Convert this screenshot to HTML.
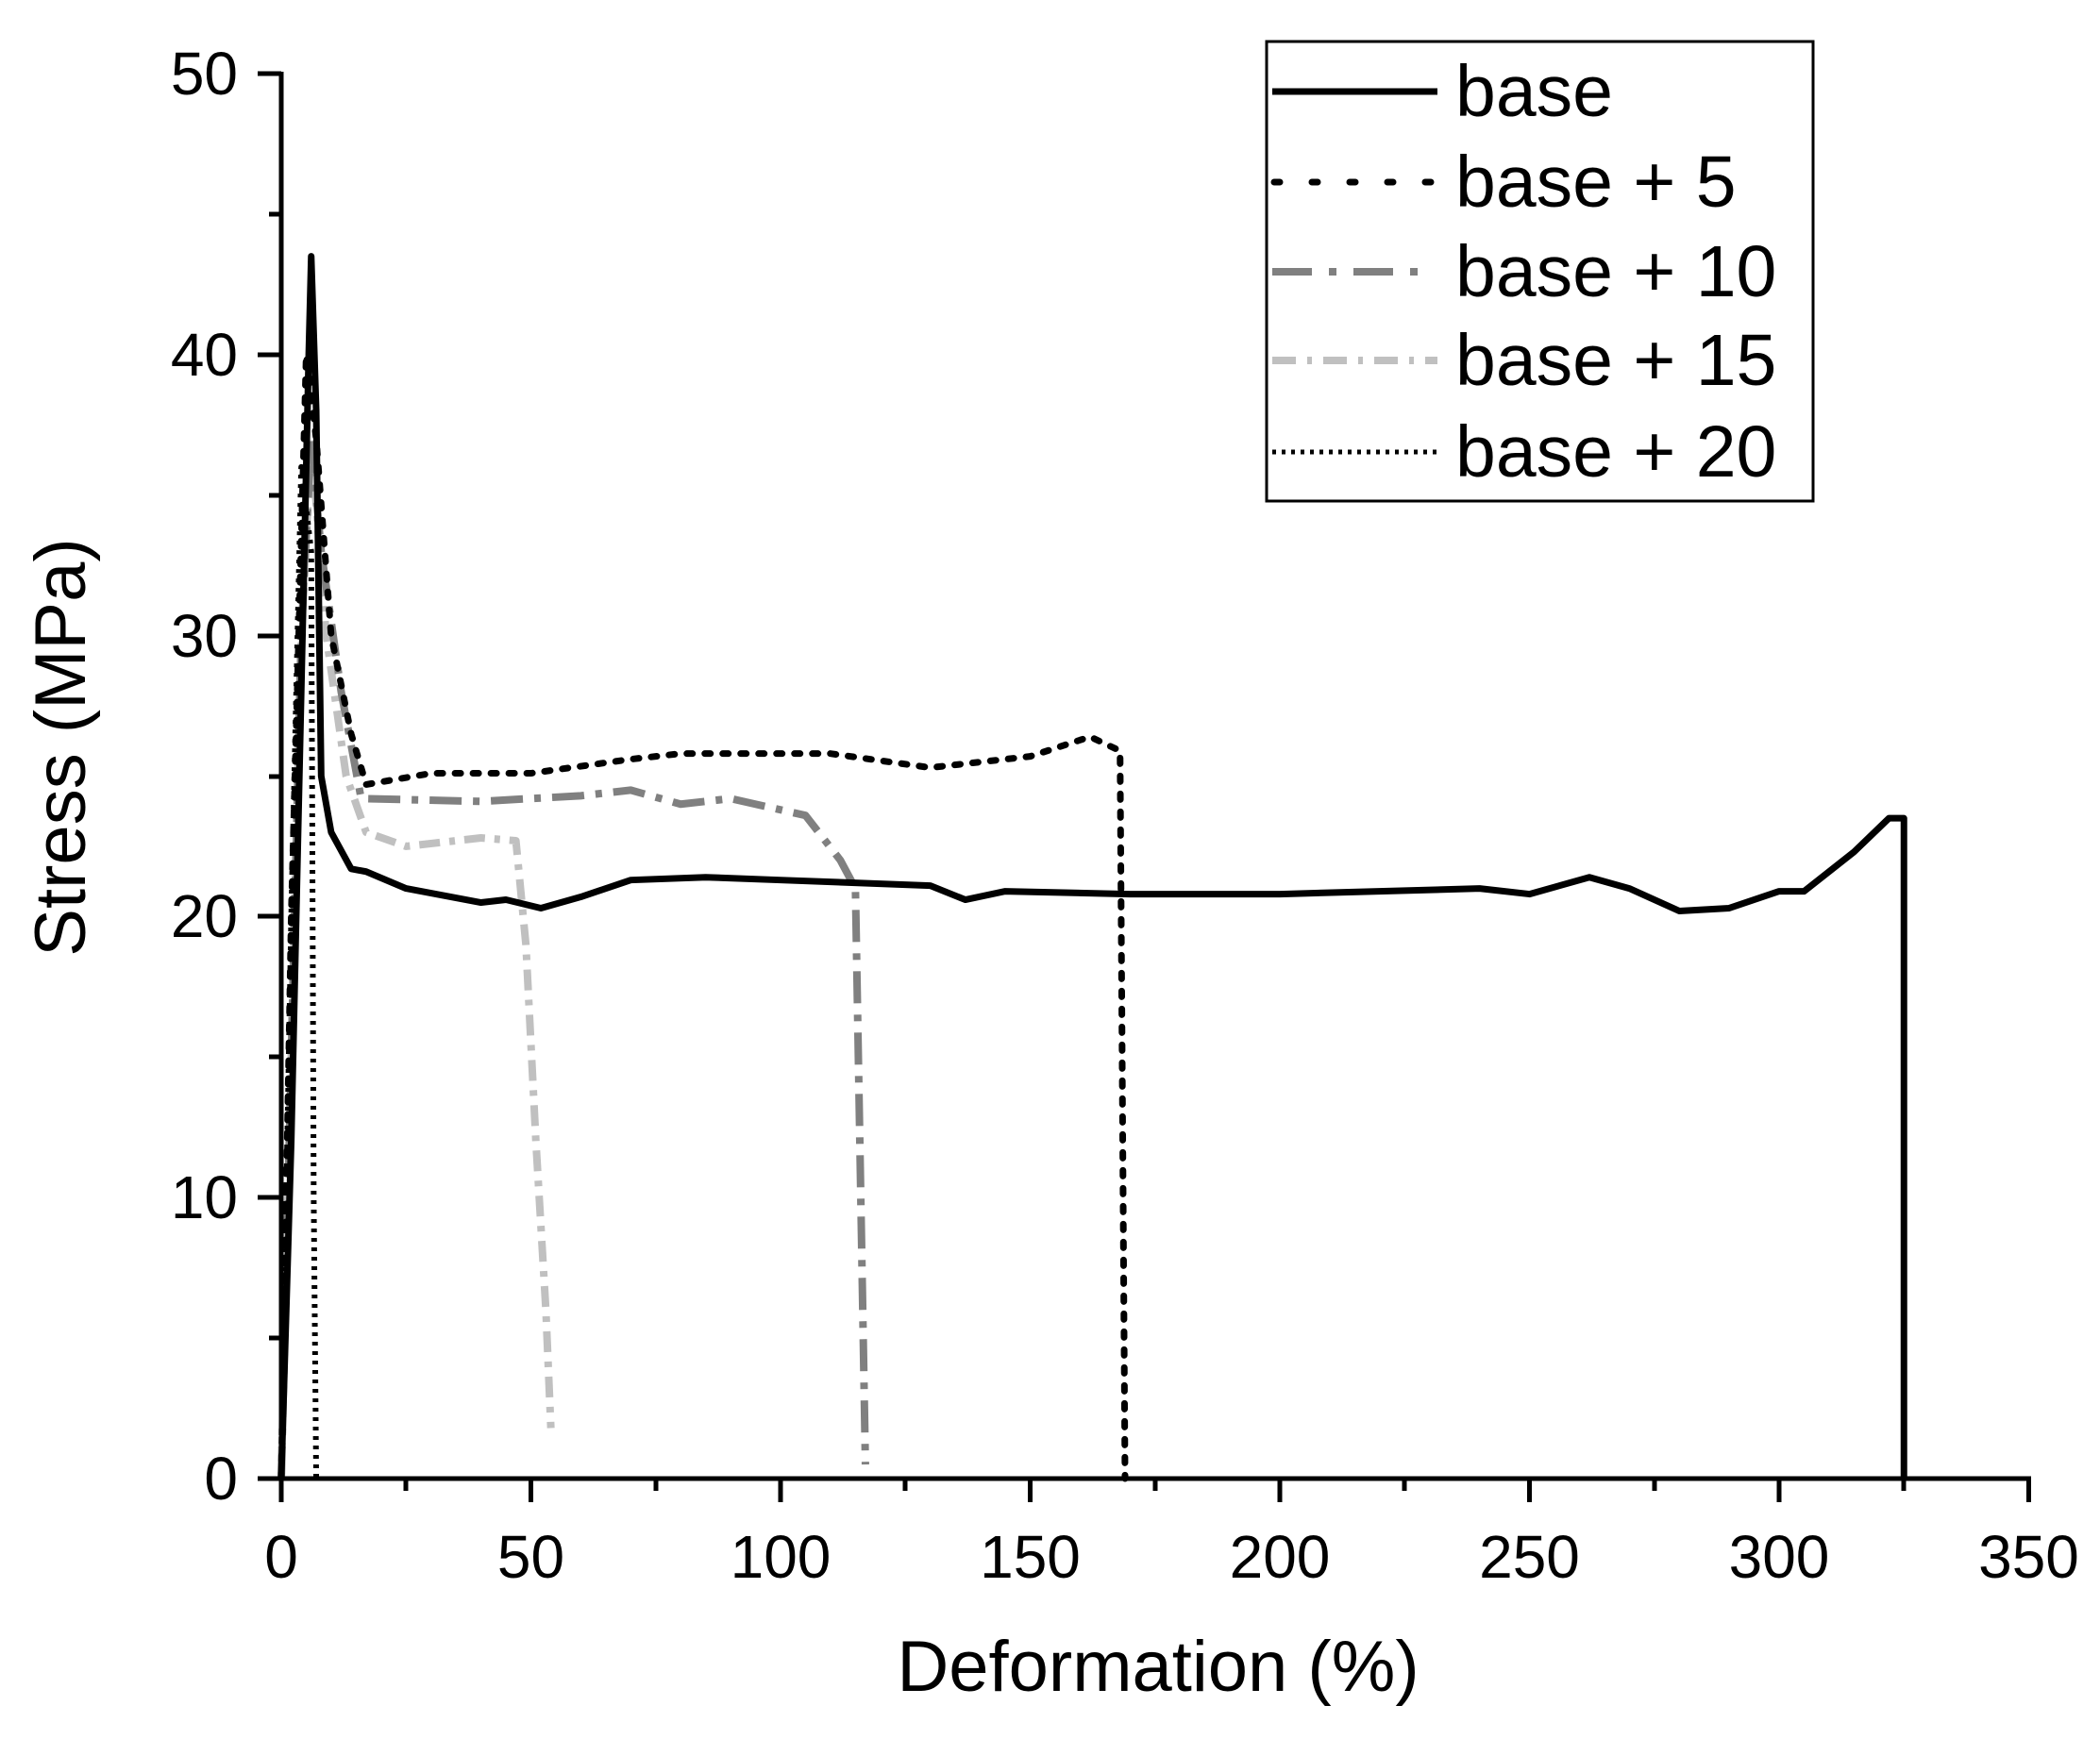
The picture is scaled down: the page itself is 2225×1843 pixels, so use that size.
<!DOCTYPE html>
<html><head><meta charset="utf-8"><style>html,body{margin:0;padding:0;background:#fff}svg{display:block}</style></head>
<body>
<svg width="2225" height="1843" viewBox="0 0 2225 1843" xmlns="http://www.w3.org/2000/svg" font-family="Liberation Sans, Arial, sans-serif">
<rect width="2225" height="1843" fill="#fff"/>
<g transform="translate(298,1567) scale(5.29,-29.78)" fill="none" stroke-linejoin="round">
<polyline vector-effect="non-scaling-stroke" stroke="#c0c0c0" stroke-width="8" stroke-dasharray="22 10 6 10" points="0,0 2,15 4,30 6,37 9,30 13,25 17,23 25,22.5 40,22.8 47,22.7 49,19 51,12 53,6 54,1.8"/>
<polyline vector-effect="non-scaling-stroke" stroke="#808080" stroke-width="8" stroke-dasharray="34 12 7 12" points="0,0 2,15 4,30 6,37 8,33 12,28 16,24.2 40,24.1 60,24.3 70,24.5 80,24 90,24.2 105,23.6 112,22 115,21 117,0.5"/>
<polyline vector-effect="non-scaling-stroke" stroke="#000" stroke-width="7" stroke-dasharray="6 13" stroke-linecap="round" points="0,0 2,20 5,40 7,37 10,30 14,26.5 17,24.7 30,25.1 50,25.1 70,25.6 80,25.8 110,25.8 130,25.3 150,25.7 162,26.4 168,25.9 169,0"/>
<polyline vector-effect="non-scaling-stroke" stroke="#000" stroke-width="6" stroke-dasharray="4 6" points="0,0 2,20 4,36 6,33 6.5,10 7,0"/>
<polyline vector-effect="non-scaling-stroke" stroke="#000" stroke-width="7" points="0,0 2,12 4,28 5.5,40 6,43.5 7,38 8,25 10,23 14,21.7 17,21.6 25,21 40,20.5 45,20.6 52,20.3 60,20.7 70,21.3 85,21.4 100,21.3 130,21.1 137,20.6 145,20.9 170,20.8 200,20.8 240,21 250,20.8 262,21.4 270,21 280,20.2 290,20.3 300,20.9 305,20.9 315,22.3 322,23.5 325,23.5 325,0"/>
</g>
<g stroke="#000" stroke-width="5" fill="none">
<line x1="298" y1="76" x2="298" y2="1569"/>
<line x1="296" y1="1567" x2="2152" y2="1567"/>
<path d="M273 78H298M273 376H298M273 674H298M273 971H298M273 1269H298M273 1567H298"/>
<path d="M285 227H298M285 525H298M285 823H298M285 1120H298M285 1418H298"/>
<path d="M298 1567V1592M562.5 1567V1592M827 1567V1592M1091.5 1567V1592M1356 1567V1592M1620.5 1567V1592M1885 1567V1592M2149.5 1567V1592"/>
<path d="M430 1567V1580M695 1567V1580M959 1567V1580M1224 1567V1580M1488 1567V1580M1753 1567V1580M2017 1567V1580"/>
</g>
<g font-size="64" fill="#000" text-anchor="end">
<text x="252" y="100">50</text><text x="252" y="398">40</text><text x="252" y="696">30</text><text x="252" y="993">20</text><text x="252" y="1291">10</text><text x="252" y="1589">0</text>
</g>
<g font-size="64" fill="#000" text-anchor="middle">
<text x="298" y="1672">0</text><text x="562.5" y="1672">50</text><text x="827" y="1672">100</text><text x="1091.5" y="1672">150</text><text x="1356" y="1672">200</text><text x="1620.5" y="1672">250</text><text x="1885" y="1672">300</text><text x="2149.5" y="1672">350</text>
</g>
<text x="1227" y="1792" font-size="76" text-anchor="middle">Deformation (%)</text>
<text transform="translate(90,792) rotate(-90)" font-size="76" text-anchor="middle">Stress (MPa)</text>
<rect x="1342" y="44" width="579" height="487" fill="#fff" stroke="#000" stroke-width="3"/>
<g fill="none">
<line x1="1348" y1="97" x2="1523" y2="97" stroke="#000" stroke-width="7"/>
<line x1="1350" y1="193" x2="1523" y2="193" stroke="#000" stroke-width="7" stroke-dasharray="6 34" stroke-linecap="round"/>
<line x1="1348" y1="288" x2="1505" y2="288" stroke="#808080" stroke-width="8" stroke-dasharray="42 18 8 18"/>
<line x1="1348" y1="382" x2="1523" y2="382" stroke="#c0c0c0" stroke-width="8" stroke-dasharray="25 12 5 12"/>
<line x1="1348" y1="479" x2="1523" y2="479" stroke="#000" stroke-width="5" stroke-dasharray="4 6"/>
</g>
<g font-size="77" fill="#000">
<text x="1542" y="123">base</text><text x="1542" y="219">base + 5</text><text x="1542" y="314">base + 10</text><text x="1542" y="408">base + 15</text><text x="1542" y="505">base + 20</text>
</g>
</svg>
</body></html>
